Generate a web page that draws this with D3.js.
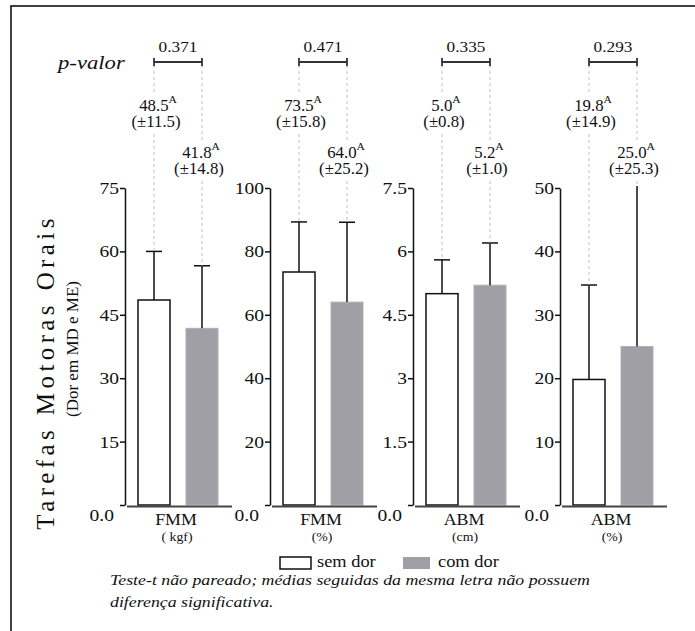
<!DOCTYPE html>
<html>
<head>
<meta charset="utf-8">
<script src="https://cdn.jsdelivr.net/npm/d3@7"></script>
</head>
<body style="margin:0; background:#fff">
<div id="plot"></div>
<script>
// chart values
const panels = ["FMM", "FMM", "ABM", "ABM"];
const units = ["( kgf)", "(%)", "(cm)", "(%)"];
const groups = ["sem dor", "com dor"];
const semDor = [48.5, 73.5, 5.0, 19.8];
const semDorSD = [11.5, 15.8, 0.8, 14.9];
const comDor = [41.8, 64.0, 5.2, 25.0];
const comDorSD = [14.8, 25.2, 1.0, 25.3];
const letters = ["A", "A", "A", "A"];
const pValues = ["0.371", "0.471", "0.335", "0.293"];
const yMax = [75, 100, 7.5, 50];
const yTicks = [
  [0, 15, 30, 45, 60, 75],
  [0, 20, 40, 60, 80, 100],
  [0, 1.5, 3, 4.5, 6, 7.5],
  [0, 10, 20, 30, 40, 50]
];

const w = 695;
const h = 631;
const FONT = "'Liberation Serif', 'Times New Roman', serif";
const SX = 1.15;            // the original text looks a bit wide
const axisX = [125, 270, 413, 560];
const yTop = 188, yBottom = 505;
const bracketY = 62;

const svg = d3.select("div#plot")
  .append("svg")
    .attr("width", w)
    .attr("height", h)
    .style("font-family", FONT);

// frame
svg.append("rect")
  .attr("x", 11).attr("y", 6)
  .attr("width", w + 20).attr("height", h + 20)
  .attr("fill", "none")
  .attr("stroke", "#111")
  .attr("stroke-width", 1.6);

// helper for stretched text
function label(g, x, y, str, size, anchor, sx) {
  return g.append("text")
    .attr("transform", `translate(${x},${y}) scale(${sx || SX},1)`)
    .attr("text-anchor", anchor || "middle")
    .attr("dominant-baseline", "central")
    .style("font-family", FONT)
    .style("font-size", size + "px")
    .attr("fill", "#111")
    .text(str);
}

// p-valor title
label(svg, 58, bracketY + 1, "p-valor", 18, "start", 1.26)
  .style("font-style", "italic");

panels.forEach((name, i) => {
  const g = svg.append("g");
  const ax = axisX[i];

  const yScale = d3.scaleLinear()
    .domain([0, yMax[i]])
    .range([yBottom, yTop]);

  const xScale = d3.scaleBand()
    .domain(groups)
    .range([ax + 5, ax + 101])
    .paddingInner(1 / 3)
    .paddingOuter(1 / 6);

  const means = [semDor[i], comDor[i]];
  const sds = [semDorSD[i], comDorSD[i]];

  // y axis
  const yAxis = d3.axisLeft(yScale)
    .tickValues(yTicks[i])
    .tickSize(5)
    .tickSizeOuter(0)
    .tickFormat(d => d === 0 ? "0.0" : d3.format("~g")(d));

  const ya = g.append("g")
    .attr("transform", `translate(${ax},0)`)
    .call(yAxis);
  ya.select(".domain").attr("stroke", "#111").attr("stroke-width", 1.5);
  ya.selectAll(".tick line").attr("stroke", "#111").attr("stroke-width", 1.5);
  ya.selectAll(".tick text")
    .attr("x", null)
    .attr("dy", null)
    .attr("dominant-baseline", "central")
    .attr("transform", d => `translate(${d === 0 ? -11 : -6},${d === 0 ? 10 : 0}) scale(${SX},1)`)
    .style("font-family", FONT)
    .style("font-size", "17px")
    .attr("fill", "#111");

  // bars
  g.selectAll("rect.bar")
    .data(groups)
    .enter()
    .append("rect")
      .attr("class", "bar")
      .attr("x", d => xScale(d))
      .attr("width", xScale.bandwidth())
      .attr("y", (d, j) => yScale(means[j]))
      .attr("height", (d, j) => yBottom - yScale(means[j]))
      .attr("fill", (d, j) => j === 0 ? "#fff" : "#a09fa5")
      .attr("stroke", (d, j) => j === 0 ? "#111" : "#b0afb4")
      .attr("stroke-width", (d, j) => j === 0 ? 1.5 : 1);

  // baseline
  g.append("line")
    .attr("x1", ax + 2).attr("x2", ax + 107)
    .attr("y1", yBottom + 1.5).attr("y2", yBottom + 1.5)
    .attr("stroke", "#444")
    .attr("stroke-width", 2.2);

  groups.forEach((grp, j) => {
    const cx = xScale(grp) + xScale.bandwidth() / 2;
    const topVal = means[j] + sds[j];
    const yErr = Math.max(yScale(topVal), yTop - 6);

    // error bar
    g.append("line")
      .attr("x1", cx).attr("x2", cx)
      .attr("y1", yScale(means[j])).attr("y2", yErr)
      .attr("stroke", "#111").attr("stroke-width", 1.5);
    if (topVal <= yMax[i]) {
      g.append("line")
        .attr("x1", cx - 8).attr("x2", cx + 8)
        .attr("y1", yErr).attr("y2", yErr)
        .attr("stroke", "#111").attr("stroke-width", 1.5);
    }

    // value labels
    const ly = j === 0 ? 105 : 152;
    const lx = j === 0 ? cx + 2 : cx - 3;
    const t = label(g, lx + 2, ly, null, 16, "middle", 1.05);
    t.append("tspan").text(means[j].toFixed(1));
    t.append("tspan").attr("dy", -6).style("font-size", "11px").text(letters[i]);
    label(g, lx, ly + 17, "(±" + sds[j].toFixed(1) + ")", 16, "middle", 1.05);

    // dashed guides
    const gapTop = ly - 12, gapBot = ly + 29;
    [[bracketY + 3, gapTop], [gapBot, yErr]].forEach(seg => {
      g.append("line")
        .attr("x1", cx).attr("x2", cx)
        .attr("y1", seg[0]).attr("y2", seg[1])
        .attr("stroke", "#bdbdbd")
        .attr("stroke-width", 1)
        .attr("stroke-dasharray", "3,3");
    });
  });

  // p-value bracket
  const x1 = xScale(groups[0]) + xScale.bandwidth() / 2;
  const x2 = xScale(groups[1]) + xScale.bandwidth() / 2;
  g.append("path")
    .attr("d", `M${x1},${bracketY - 4}V${bracketY + 4}M${x1},${bracketY}H${x2}M${x2},${bracketY - 4}V${bracketY + 4}`)
    .attr("fill", "none")
    .attr("stroke", "#333")
    .attr("stroke-width", 1.8);
  label(g, (x1 + x2) / 2, 47, pValues[i], 15);

  // x labels
  label(g, ax + 51, 519, name, 17, "middle", 1.05);
  label(g, ax + 52, 537, units[i], 12);
});

// y axis title
svg.append("text")
  .attr("transform", "translate(45,372) rotate(-90)")
  .attr("text-anchor", "middle")
  .attr("dominant-baseline", "central")
  .style("font-family", FONT)
  .style("font-size", "25px")
  .style("letter-spacing", "4.4px")
  .attr("fill", "#111")
  .text("Tarefas Motoras Orais");

svg.append("text")
  .attr("transform", "translate(72,349) rotate(-90)")
  .attr("text-anchor", "middle")
  .attr("dominant-baseline", "central")
  .style("font-family", FONT)
  .style("font-size", "17px")
  .attr("fill", "#111")
  .text("(Dor em MD e ME)");

// legend
const legend = svg.append("g");
legend.append("rect")
  .attr("x", 280).attr("y", 557).attr("width", 31).attr("height", 12)
  .attr("fill", "#fff").attr("stroke", "#111").attr("stroke-width", 1.5);
label(legend, 317, 562, "sem dor", 16, "start");
legend.append("rect")
  .attr("x", 403).attr("y", 557).attr("width", 27).attr("height", 12)
  .attr("fill", "#a09fa5");
label(legend, 438, 562, "com dor", 16, "start");

// caption
const captionLines = [
  "Teste-t não pareado; médias seguidas da mesma letra não possuem",
  "diferença significativa."
];
captionLines.forEach((line, k) => {
  svg.append("text")
    .attr("transform", `translate(110,${585 + 22 * k}) scale(1.15,1)`)
    .style("font-family", FONT)
    .style("font-style", "italic")
    .style("font-size", "15.5px")
    .attr("fill", "#111")
    .text(line);
});
</script>
</body>
</html>
